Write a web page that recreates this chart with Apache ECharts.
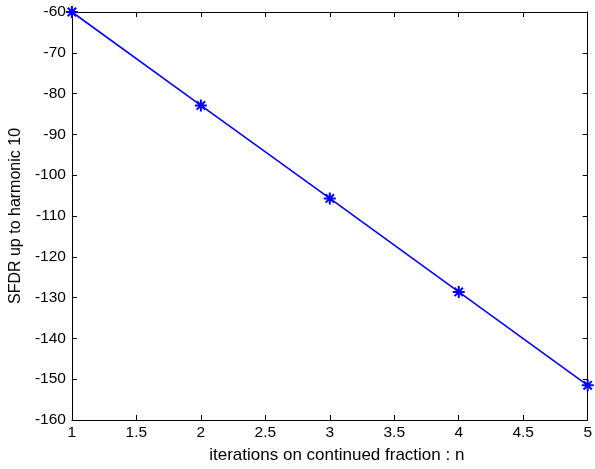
<!DOCTYPE html>
<html><head><meta charset="utf-8">
<script src="https://cdn.jsdelivr.net/npm/echarts@6/dist/echarts.min.js"></script>
<style>html,body{margin:0;padding:0;background:#fff}#c{width:595px;height:469px}</style>
</head><body><div id="c"></div>
<script>
var iterations = [1, 2, 3, 4, 5];
var sfdr = [-60, -82.9, -105.7, -128.6, -151.5];
var xTicks = [1, 1.5, 2, 2.5, 3, 3.5, 4, 4.5, 5];
var yTicks = [-160, -150, -140, -130, -120, -110, -100, -90, -80, -70, -60];

var chart = echarts.init(document.getElementById('c'), null, {renderer: 'canvas'});
var ff = 'Liberation Sans, Arial, sans-serif';
var labelFont = {fontFamily: ff, fontSize: 15.5, color: '#000'};
var star = 'path://M0,-6L0,6M-6,0L6,0M-4.2,-4.2L4.2,4.2M-4.2,4.2L4.2,-4.2';
var axisCommon = {
  axisLine: {show: true, onZero: false, lineStyle: {color: '#000', width: 1}},
  axisTick: {show: true, inside: true, length: 5, lineStyle: {color: '#000'}},
  splitLine: {show: false}
};
chart.setOption({
  animation: false,
  grid: {left: 71, right: 3, top: 12, bottom: 46, containLabel: false},
  xAxis: [
    Object.assign({type: 'value', min: 1, max: 5, interval: 0.5,
      name: 'iterations on continued fraction : n', nameLocation: 'middle', nameGap: 27,
      nameTextStyle: {fontFamily: ff, fontSize: 17, color: '#000', padding: [0, 0, 0, 14]},
      axisLabel: Object.assign({margin: 5}, labelFont)}, axisCommon),
    Object.assign({type: 'value', min: 1, max: 5, interval: 0.5, position: 'top',
      axisLabel: {show: false}}, axisCommon)
  ],
  yAxis: [
    Object.assign({type: 'value', min: -160, max: -60, interval: 10,
      name: 'SFDR up to harmonic 10', nameLocation: 'middle', nameGap: 47,
      nameTextStyle: {fontFamily: ff, fontSize: 16, color: '#000'},
      axisLabel: Object.assign({margin: 6}, labelFont)}, axisCommon),
    Object.assign({type: 'value', min: -160, max: -60, interval: 10, position: 'right',
      axisLabel: {show: false}}, axisCommon)
  ],
  series: [{
    type: 'line',
    data: iterations.map(function(x, i){ return [x, sfdr[i]]; }),
    symbol: star,
    symbolSize: 12,
    showAllSymbol: true,
    clip: false,
    lineStyle: {color: '#0000ff', width: 1.6},
    itemStyle: {color: '#0000ff', borderColor: '#0000ff', borderWidth: 2}
  }]
});
</script></body></html>
